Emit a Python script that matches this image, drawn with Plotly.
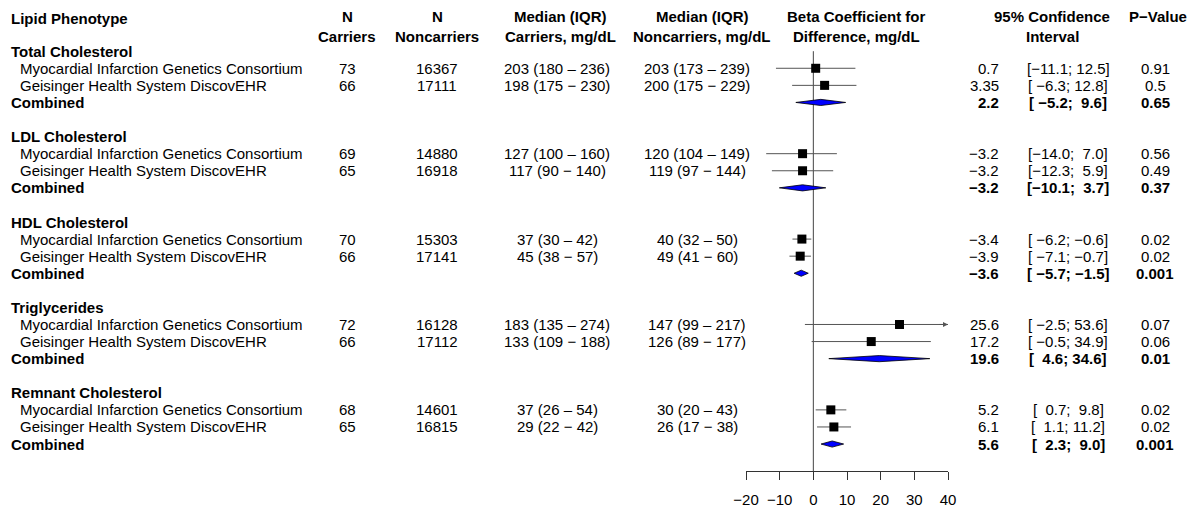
import plotly.graph_objects as go

# ---------------- data ----------------
groups = ["Total Cholesterol", "LDL Cholesterol", "HDL Cholesterol", "Triglycerides", "Remnant Cholesterol"]
studies = ["Myocardial Infarction Genetics Consortium", "Geisinger Health System DiscovEHR"]
combined_label = "Combined"

n_carriers = [[73, 66], [69, 65], [70, 66], [72, 66], [68, 65]]
n_noncarriers = [[16367, 17111], [14880, 16918], [15303, 17141], [16128, 17112], [14601, 16815]]

carrier_median = [[203, 198], [127, 117], [37, 45], [183, 133], [37, 29]]
carrier_q1 = [[180, 175], [100, 90], [30, 38], [135, 109], [26, 22]]
carrier_q3 = [[236, 230], [160, 140], [42, 57], [274, 188], [54, 42]]
noncarrier_median = [[203, 200], [120, 119], [40, 49], [147, 126], [30, 26]]
noncarrier_q1 = [[173, 175], [104, 97], [32, 41], [99, 89], [20, 17]]
noncarrier_q3 = [[239, 229], [149, 144], [50, 60], [217, 177], [43, 38]]

beta = [[0.7, 3.35], [-3.2, -3.2], [-3.4, -3.9], [25.6, 17.2], [5.2, 6.1]]
ci_low = [[-11.1, -6.3], [-14.0, -12.3], [-6.2, -7.1], [-2.5, -0.5], [0.7, 1.1]]
ci_high = [[12.5, 12.8], [7.0, 5.9], [-0.6, -0.7], [53.6, 34.9], [9.8, 11.2]]
p_value = [[0.91, 0.5], [0.56, 0.49], [0.02, 0.02], [0.07, 0.06], [0.02, 0.02]]

comb_beta = [2.2, -3.2, -3.6, 19.6, 5.6]
comb_low = [-5.2, -10.1, -5.7, 4.6, 2.3]
comb_high = [9.6, 3.7, -1.5, 34.6, 9.0]
comb_p = [0.65, 0.37, 0.001, 0.01, 0.001]

x_ticks = [-20, -10, 0, 10, 20, 30, 40]

# ---------------- layout helpers ----------------
OFF = 8                      # page body margin
W, H = 1202 - OFF, 508 - OFF
FONT = "Liberation Sans, Arial, Helvetica, sans-serif"
FS = 15
ROW0_PX, ROW_PX = 51.2 - OFF, 17.08
AXIS_PX = 471 - OFF
x_min, x_max = x_ticks[0], x_ticks[-1]
r_top = -ROW0_PX / ROW_PX
r_bot = (AXIS_PX - ROW0_PX) / ROW_PX
NB = "\u00a0"
DASHES = ["\u2013", "\u2212"]


def X(px):
    return (px - OFF) / W


def num(v):
    return repr(v).replace("-", "\u2212")


def pad(s, w):
    return NB * max(0, w - len(s)) + s


def ci_text(lo, hi):
    return "[" + pad(num(lo), 5) + ";" + NB + pad(num(hi), 4) + "]"


def iqr(m, a, b, dash):
    return f"{m} ({a} {dash} {b})"


annotations = []


def txt(text, xpx, row=None, ypx=None, anchor="left", bold=False):
    if bold:
        text = "<b>" + text + "</b>"
    a = dict(text=text, x=X(xpx), xref="paper", xanchor=anchor, yanchor="middle",
             showarrow=False, font=dict(family=FONT, size=FS, color="black"))
    if row is not None:
        a.update(y=row, yref="y")
    else:
        a.update(y=1 - (ypx - OFF) / H, yref="paper")
    annotations.append(a)


# column headers
txt("Lipid Phenotype", 9, ypx=18, bold=True)
txt("N", 347, ypx=16, anchor="center", bold=True)
txt("Carriers", 347, ypx=36, anchor="center", bold=True)
txt("N", 437, ypx=16, anchor="center", bold=True)
txt("Noncarriers", 437, ypx=36, anchor="center", bold=True)
txt("Median (IQR)", 560, ypx=16, anchor="center", bold=True)
txt("Carriers, mg/dL", 560, ypx=36, anchor="center", bold=True)
txt("Median (IQR)", 702, ypx=16, anchor="center", bold=True)
txt("Noncarriers, mg/dL", 702, ypx=36, anchor="center", bold=True)
txt("Beta Coefficient for", 856, ypx=16, anchor="center", bold=True)
txt("Difference, mg/dL", 856, ypx=36, anchor="center", bold=True)
txt("95% Confidence", 1052, ypx=16, anchor="center", bold=True)
txt("Interval", 1052, ypx=36, anchor="center", bold=True)
txt("P\u2212Value", 1158, ypx=16, anchor="center", bold=True)

ci_x, ci_y = [], []
sq_x, sq_y = [], []
fig = go.Figure()

for g, name in enumerate(groups):
    base = 5 * g
    txt(name, 9, row=base, bold=True)
    for s in range(2):
        r = base + 1 + s
        txt(studies[s], 18, row=r)
        txt(str(n_carriers[g][s]), 347, row=r, anchor="center")
        txt(str(n_noncarriers[g][s]), 437, row=r, anchor="center")
        txt(iqr(carrier_median[g][s], carrier_q1[g][s], carrier_q3[g][s], DASHES[s]), 557, row=r, anchor="center")
        txt(iqr(noncarrier_median[g][s], noncarrier_q1[g][s], noncarrier_q3[g][s], DASHES[s]), 697, row=r, anchor="center")
        txt(num(beta[g][s]), 1001, row=r, anchor="right")
        txt(ci_text(ci_low[g][s], ci_high[g][s]), 1068, row=r, anchor="center")
        txt(num(p_value[g][s]), 1155, row=r, anchor="center")
        lo = max(ci_low[g][s], x_min)
        hi = min(ci_high[g][s], x_max)
        ci_x += [lo, hi, None]
        ci_y += [r, r, None]
        sq_x.append(beta[g][s])
        sq_y.append(r)
        if ci_high[g][s] > x_max:
            annotations.append(dict(x=x_max, y=r, xref="x", yref="y", ax=x_max - 3, ay=r,
                                    axref="x", ayref="y", showarrow=True, arrowhead=2,
                                    arrowsize=1, arrowwidth=1, arrowcolor="#555", text=""))
    rc = base + 3
    txt(combined_label, 9, row=rc, bold=True)
    txt(num(comb_beta[g]), 1001, row=rc, anchor="right", bold=True)
    txt(ci_text(comb_low[g], comb_high[g]), 1068, row=rc, anchor="center", bold=True)
    txt(num(comb_p[g]), 1155, row=rc, anchor="center", bold=True)
    hh = 0.18
    fig.add_trace(go.Scatter(
        x=[comb_low[g], comb_beta[g], comb_high[g], comb_beta[g], comb_low[g]],
        y=[rc, rc - hh, rc, rc + hh, rc],
        mode="lines", fill="toself", fillcolor="#0000ff",
        line=dict(color="black", width=0.8), hoverinfo="skip", showlegend=False))

fig.add_trace(go.Scatter(x=ci_x, y=ci_y, mode="lines", line=dict(color="#555555", width=1),
                         hoverinfo="skip", showlegend=False))
fig.add_trace(go.Scatter(x=sq_x, y=sq_y, mode="markers",
                         marker=dict(symbol="square", size=9, color="black", line=dict(width=0)),
                         showlegend=False))

fig.add_shape(type="line", x0=0, x1=0, y0=0, y1=r_bot, xref="x", yref="y",
              line=dict(color="#444444", width=1), layer="below")

fig.update_layout(
    template="none",
    width=W, height=H, autosize=False,
    margin=dict(l=0, r=0, t=0, b=0, pad=0, autoexpand=False),
    paper_bgcolor="white", plot_bgcolor="white",
    showlegend=False,
    annotations=annotations,
    xaxis=dict(domain=[X(746), X(948)], range=[x_min, x_max], tickvals=x_ticks,
               ticktext=[num(t) for t in x_ticks], automargin=False,
               showline=True, linecolor="#333333", linewidth=1, ticks="outside",
               ticklen=8, tickcolor="#333333", showgrid=False, zeroline=False,
               ticklabelstandoff=7,
               tickfont=dict(family=FONT, size=FS, color="black"), anchor="y",
               fixedrange=True),
    yaxis=dict(domain=[1 - AXIS_PX / H, 1], range=[r_bot, r_top], visible=False,
               automargin=False, showgrid=False, zeroline=False, fixedrange=True),
)

fig.write_html("out.html")
